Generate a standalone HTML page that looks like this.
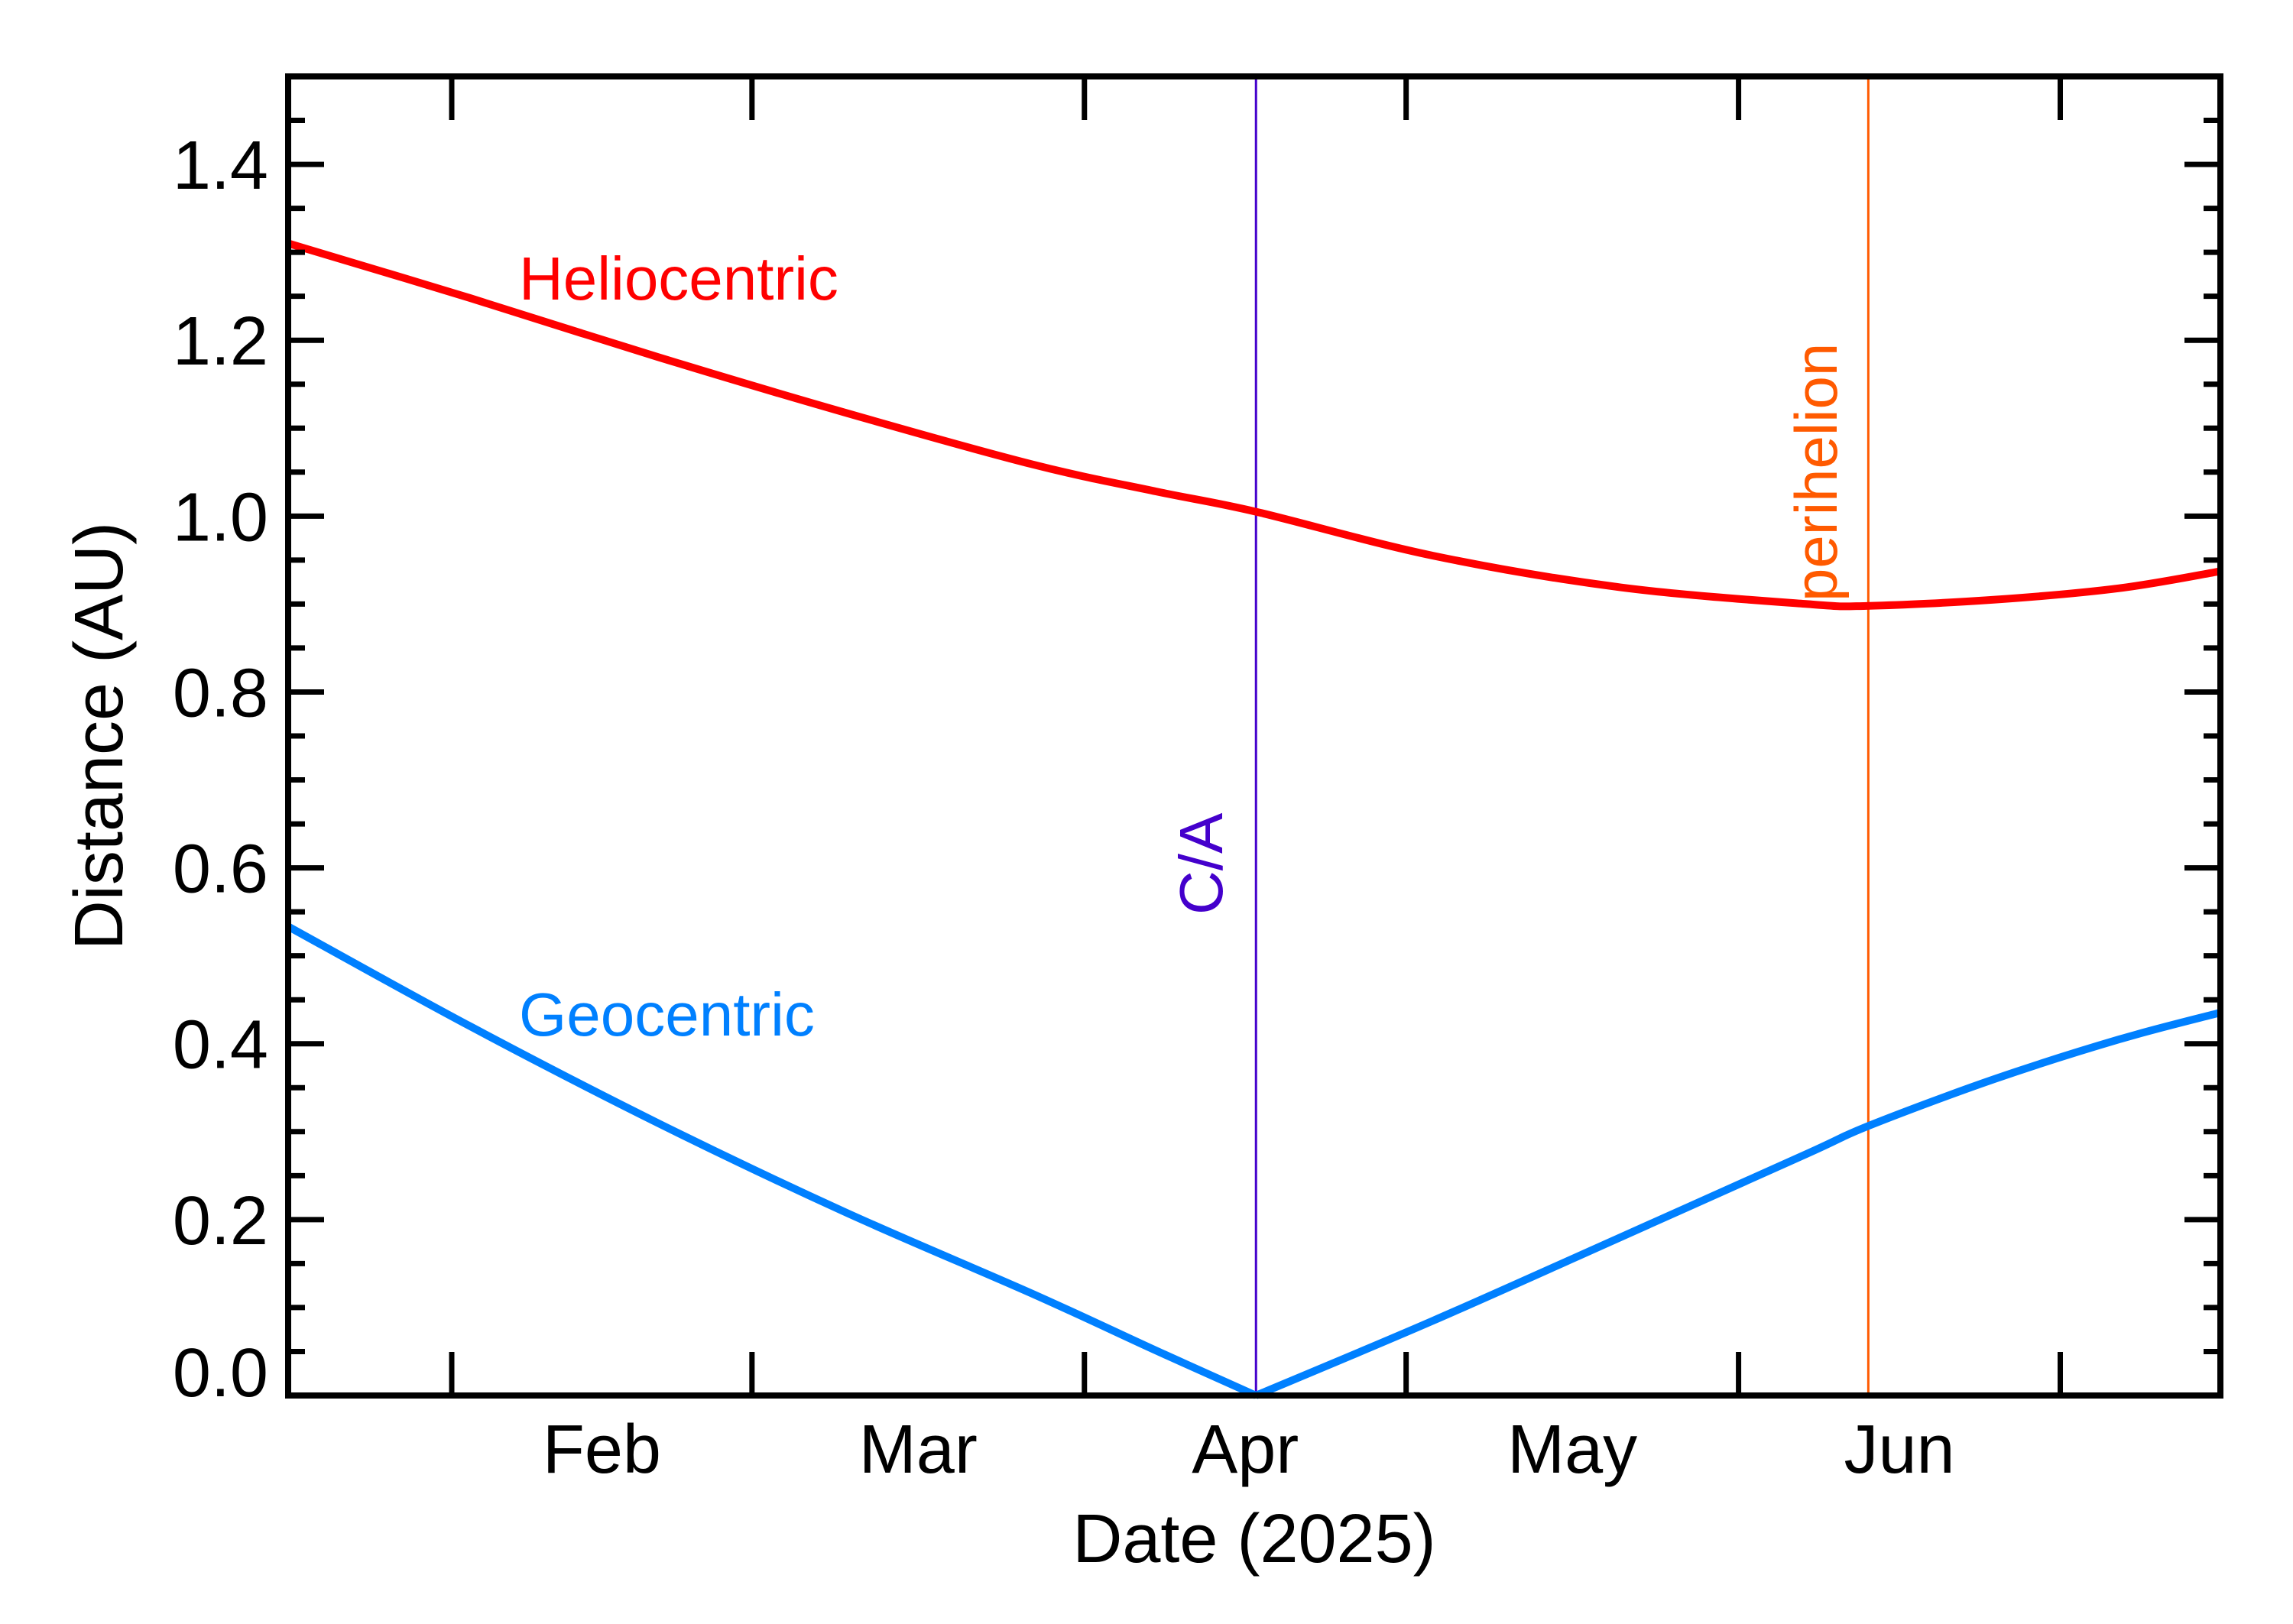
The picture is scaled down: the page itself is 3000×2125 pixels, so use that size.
<!DOCTYPE html>
<html><head><meta charset="utf-8"><style>
html,body{margin:0;padding:0;background:#fff;}
svg{display:block;font-family:"Liberation Sans",Arial,sans-serif;}
</style></head><body>
<svg id="chart" width="3000" height="2125" viewBox="0 0 3000 2125" xmlns="http://www.w3.org/2000/svg">
<rect width="3000" height="2125" fill="#fff"/>
<g id="marks"></g>
<g id="axes"></g>
</svg>
<script>
const helioDays = [15.8, 32.7, 50.2, 67.6, 85.1, 96.7, 106.0, 122.5, 140.0, 157.4, 163.2, 174.9, 186.5, 195.8];
const helioValues = [1.310, 1.248, 1.181, 1.118, 1.059, 1.028, 1.005, 0.955, 0.919, 0.900, 0.898, 0.905, 0.918, 0.937];
const geoDays = [15.8, 32.7, 50.2, 67.6, 85.1, 96.7, 106.0, 122.5, 140.0, 157.4, 163.2, 174.9, 186.5, 195.8];
const geoValues = [0.533, 0.420, 0.310, 0.209, 0.116, 0.051, 0.0, 0.085, 0.180, 0.275, 0.307, 0.360, 0.405, 0.435];
const monthStartDays = [31, 59, 90, 120, 151, 181, 212];
const monthLabels = ["Feb", "Mar", "Apr", "May", "Jun"];
const yTickValues = [0.0, 0.2, 0.4, 0.6, 0.8, 1.0, 1.2, 1.4];
const yTickLabels = ["0.0", "0.2", "0.4", "0.6", "0.8", "1.0", "1.2", "1.4"];
const closeApproachDay = 106.0;
const perihelionDay = 163.1;

const L = 377, R = 2905, T = 100, B = 1826;
const X0 = 591, XS = 14.03; // day 31 -> Feb 1
function xScale(d){ return X0 + (d - 31) * XS; }
function yScale(v){ return B - v * (B - T) / 1.5; }

const NS = "http://www.w3.org/2000/svg";
const marks = document.getElementById('marks');
const axes = document.getElementById('axes');
function mk(tag, attrs, parent){
  const e = document.createElementNS(NS, tag);
  for (const k in attrs) e.setAttribute(k, attrs[k]);
  parent.appendChild(e);
  return e;
}

// vertical event lines
let ca = mk('line', {x1: xScale(closeApproachDay), x2: xScale(closeApproachDay), y1: T, y2: B, stroke: '#4400cc', 'stroke-width': 3}, marks);


let ph = mk('line', {x1: xScale(perihelionDay), x2: xScale(perihelionDay), y1: T, y2: B, stroke: '#ff5a00', 'stroke-width': 3}, marks);



function smoothPath(days, vals){
  const pts = days.map((d,i)=>[xScale(d), yScale(vals[i])]);
  let s = 'M' + pts[0][0] + ',' + pts[0][1];
  for (let i = 0; i < pts.length - 1; i++){
    const p0 = pts[Math.max(0,i-1)], p1 = pts[i], p2 = pts[i+1], p3 = pts[Math.min(pts.length-1,i+2)];
    const c1 = [p1[0] + (p2[0]-p0[0])/6, p1[1] + (p2[1]-p0[1])/6];
    const c2 = [p2[0] - (p3[0]-p1[0])/6, p2[1] - (p3[1]-p1[1])/6];
    s += ' C' + c1[0] + ',' + c1[1] + ' ' + c2[0] + ',' + c2[1] + ' ' + p2[0] + ',' + p2[1];
  }
  return s;
}
// geocentric: piecewise around close approach (sharp V)
const caIdx = geoValues.indexOf(0.0);
let gp1 = mk('path', {d: smoothPath(geoDays.slice(0, caIdx+1), geoValues.slice(0, caIdx+1)), fill: 'none', stroke: '#0080ff', 'stroke-width': 10, 'stroke-linejoin': 'miter'}, marks);


let gp2 = mk('path', {d: smoothPath(geoDays.slice(caIdx), geoValues.slice(caIdx)), fill: 'none', stroke: '#0080ff', 'stroke-width': 10}, marks);


let hp = mk('path', {d: smoothPath(helioDays, helioValues), fill: 'none', stroke: '#ff0000', 'stroke-width': 10}, marks);



// clip marks to plot
mk('clipPath', {id: 'pc'}, document.getElementById('chart'));
const cp = document.getElementById('pc');
mk('rect', {x: L, y: T - 10, width: R - L, height: B - T + 20}, cp);
marks.setAttribute('clip-path', 'url(#pc)');

// labels
function txt(s, attrs, name){
  const t = mk('text', attrs, axes);
  t.textContent = s;
  
  
  return t;
}
txt('Heliocentric', {x: 679, y: 392, 'font-size': 80, fill: '#ff0000'}, 'heliocentric-label');
txt('Geocentric', {x: 679, y: 1355, 'font-size': 80, fill: '#0080ff'}, 'geocentric-label');
txt('C/A', {x: 0, y: 0, 'font-size': 80, fill: '#4400cc', transform: 'translate(1599,1197) rotate(-90)'}, 'close-approach-label');
txt('perihelion', {x: 0, y: 0, 'font-size': 78, fill: '#ff5a00', transform: 'translate(2403,787) rotate(-90)'}, 'perihelion-label');

// frame
let fr = mk('rect', {x: L, y: T, width: R - L, height: B - T, fill: 'none', stroke: '#000', 'stroke-width': 8}, axes);



// x ticks
for (let i = 0; i < monthStartDays.length; i++){
  const x = xScale(monthStartDays[i]);
  if (x > L && x < R){
    let t1 = mk('line', {x1: x, x2: x, y1: B, y2: B - 57, stroke: '#000', 'stroke-width': 7}, axes);
    
    
    let t2 = mk('line', {x1: x, x2: x, y1: T, y2: T + 57, stroke: '#000', 'stroke-width': 7}, axes);
    
    
  }
}
for (let i = 0; i < monthLabels.length; i++){
  const cx = (xScale(monthStartDays[i]) + xScale(monthStartDays[i+1])) / 2;
  txt(monthLabels[i], {x: cx, y: 1927, 'font-size': 90, 'text-anchor': 'middle', fill: '#000'}, 'x-tick-label');
}
// y ticks
for (let k = 1; k < 30; k++){
  const v = k * 0.05;
  const y = yScale(v);
  const major = (k % 4 === 0);
  const len = major ? 47 : 22;
  let a = mk('line', {x1: L, x2: L + len, y1: y, y2: y, stroke: '#000', 'stroke-width': 7}, axes);
  
  
  let b = mk('line', {x1: R, x2: R - len, y1: y, y2: y, stroke: '#000', 'stroke-width': 7}, axes);
  
  
}
for (let i = 0; i < yTickValues.length; i++){
  const cy = Math.min(yScale(yTickValues[i]), 1795);
  txt(yTickLabels[i], {x: 351, y: cy + 32, 'font-size': 90, 'text-anchor': 'end', fill: '#000'}, 'y-tick-label');
}
txt('Date (2025)', {x: 1641, y: 2044, 'font-size': 90, 'text-anchor': 'middle', fill: '#000'}, 'x-axis-title');
txt('Distance (AU)', {x: 0, y: 0, 'font-size': 90, 'text-anchor': 'middle', fill: '#000', transform: 'translate(160,963) rotate(-90)'}, 'y-axis-title');
</script>
</body></html>
